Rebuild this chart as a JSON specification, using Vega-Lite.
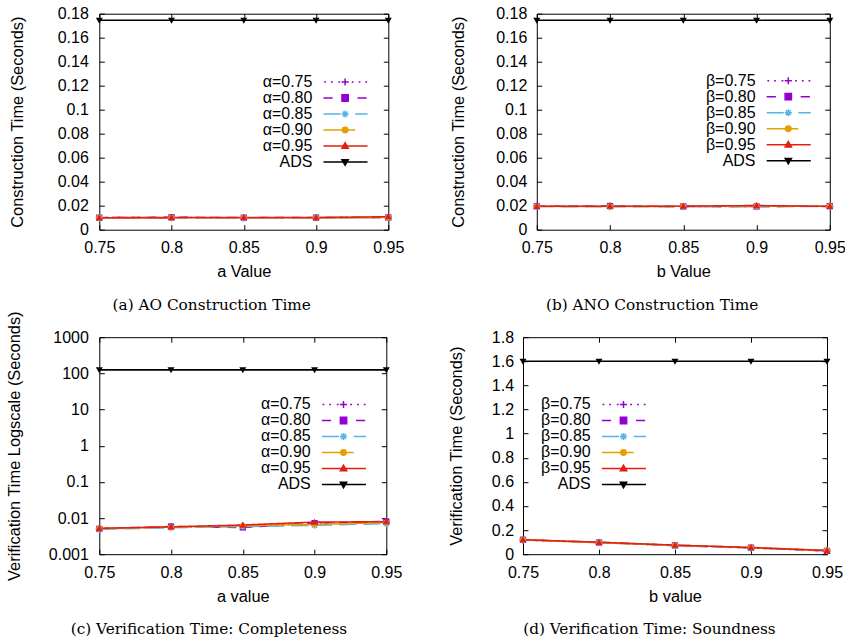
{
  "$schema": "https://vega.github.io/schema/vega-lite/v6.json",
  "background": "white",
  "padding": {"left": 5.3, "top": 4.7, "right": 0, "bottom": 0},
  "datasets": {
    "a": [
      {"x":0.75,"s":"α=0.75","t":0.0101},{"x":0.8,"s":"α=0.75","t":0.0102},{"x":0.85,"s":"α=0.75","t":0.0099},{"x":0.9,"s":"α=0.75","t":0.0100},{"x":0.95,"s":"α=0.75","t":0.0103},
      {"x":0.75,"s":"α=0.80","t":0.0100},{"x":0.8,"s":"α=0.80","t":0.0103},{"x":0.85,"s":"α=0.80","t":0.0100},{"x":0.9,"s":"α=0.80","t":0.0101},{"x":0.95,"s":"α=0.80","t":0.0102},
      {"x":0.75,"s":"α=0.85","t":0.0099},{"x":0.8,"s":"α=0.85","t":0.0098},{"x":0.85,"s":"α=0.85","t":0.0098},{"x":0.9,"s":"α=0.85","t":0.0099},{"x":0.95,"s":"α=0.85","t":0.0101},
      {"x":0.75,"s":"α=0.90","t":0.0100},{"x":0.8,"s":"α=0.90","t":0.0100},{"x":0.85,"s":"α=0.90","t":0.0100},{"x":0.9,"s":"α=0.90","t":0.0100},{"x":0.95,"s":"α=0.90","t":0.0102},
      {"x":0.75,"s":"α=0.95","t":0.0100},{"x":0.8,"s":"α=0.95","t":0.0101},{"x":0.85,"s":"α=0.95","t":0.0102},{"x":0.9,"s":"α=0.95","t":0.0101},{"x":0.95,"s":"α=0.95","t":0.0108},
      {"x":0.75,"s":"ADS","t":0.1745},{"x":0.8,"s":"ADS","t":0.1745},{"x":0.85,"s":"ADS","t":0.1745},{"x":0.9,"s":"ADS","t":0.1745},{"x":0.95,"s":"ADS","t":0.1745}
    ],
    "b": [
      {"x":0.75,"s":"β=0.75","t":0.0196},{"x":0.8,"s":"β=0.75","t":0.0197},{"x":0.85,"s":"β=0.75","t":0.0193},{"x":0.9,"s":"β=0.75","t":0.0195},{"x":0.95,"s":"β=0.75","t":0.0195},
      {"x":0.75,"s":"β=0.80","t":0.0195},{"x":0.8,"s":"β=0.80","t":0.0197},{"x":0.85,"s":"β=0.80","t":0.0194},{"x":0.9,"s":"β=0.80","t":0.0194},{"x":0.95,"s":"β=0.80","t":0.0196},
      {"x":0.75,"s":"β=0.85","t":0.0193},{"x":0.8,"s":"β=0.85","t":0.0192},{"x":0.85,"s":"β=0.85","t":0.0192},{"x":0.9,"s":"β=0.85","t":0.0192},{"x":0.95,"s":"β=0.85","t":0.0194},
      {"x":0.75,"s":"β=0.90","t":0.0194},{"x":0.8,"s":"β=0.90","t":0.0193},{"x":0.85,"s":"β=0.90","t":0.0195},{"x":0.9,"s":"β=0.90","t":0.0197},{"x":0.95,"s":"β=0.90","t":0.0195},
      {"x":0.75,"s":"β=0.95","t":0.0195},{"x":0.8,"s":"β=0.95","t":0.0196},{"x":0.85,"s":"β=0.95","t":0.0196},{"x":0.9,"s":"β=0.95","t":0.0201},{"x":0.95,"s":"β=0.95","t":0.0194},
      {"x":0.75,"s":"ADS","t":0.1745},{"x":0.8,"s":"ADS","t":0.1745},{"x":0.85,"s":"ADS","t":0.1745},{"x":0.9,"s":"ADS","t":0.1745},{"x":0.95,"s":"ADS","t":0.1745}
    ],
    "c": [
      {"x":0.75,"s":"α=0.75","t":0.0051},{"x":0.8,"s":"α=0.75","t":0.0057},{"x":0.85,"s":"α=0.75","t":0.0060},{"x":0.9,"s":"α=0.75","t":0.0070},{"x":0.95,"s":"α=0.75","t":0.0078},
      {"x":0.75,"s":"α=0.80","t":0.0050},{"x":0.8,"s":"α=0.80","t":0.0058},{"x":0.85,"s":"α=0.80","t":0.0055},{"x":0.9,"s":"α=0.80","t":0.0072},{"x":0.95,"s":"α=0.80","t":0.0080},
      {"x":0.75,"s":"α=0.85","t":0.0049},{"x":0.8,"s":"α=0.85","t":0.0054},{"x":0.85,"s":"α=0.85","t":0.0058},{"x":0.9,"s":"α=0.85","t":0.0063},{"x":0.95,"s":"α=0.85","t":0.0070},
      {"x":0.75,"s":"α=0.90","t":0.0051},{"x":0.8,"s":"α=0.90","t":0.0056},{"x":0.85,"s":"α=0.90","t":0.0061},{"x":0.9,"s":"α=0.90","t":0.0066},{"x":0.95,"s":"α=0.90","t":0.0075},
      {"x":0.75,"s":"α=0.95","t":0.0052},{"x":0.8,"s":"α=0.95","t":0.0057},{"x":0.85,"s":"α=0.95","t":0.0064},{"x":0.9,"s":"α=0.95","t":0.0077},{"x":0.95,"s":"α=0.95","t":0.0079},
      {"x":0.75,"s":"ADS","t":125},{"x":0.8,"s":"ADS","t":125},{"x":0.85,"s":"ADS","t":125},{"x":0.9,"s":"ADS","t":125},{"x":0.95,"s":"ADS","t":125}
    ],
    "d": [
      {"x":0.75,"s":"β=0.75","t":0.118},{"x":0.8,"s":"β=0.75","t":0.098},{"x":0.85,"s":"β=0.75","t":0.072},{"x":0.9,"s":"β=0.75","t":0.052},{"x":0.95,"s":"β=0.75","t":0.028},
      {"x":0.75,"s":"β=0.80","t":0.120},{"x":0.8,"s":"β=0.80","t":0.097},{"x":0.85,"s":"β=0.80","t":0.073},{"x":0.9,"s":"β=0.80","t":0.054},{"x":0.95,"s":"β=0.80","t":0.027},
      {"x":0.75,"s":"β=0.85","t":0.117},{"x":0.8,"s":"β=0.85","t":0.100},{"x":0.85,"s":"β=0.85","t":0.070},{"x":0.9,"s":"β=0.85","t":0.050},{"x":0.95,"s":"β=0.85","t":0.030},
      {"x":0.75,"s":"β=0.90","t":0.119},{"x":0.8,"s":"β=0.90","t":0.095},{"x":0.85,"s":"β=0.90","t":0.074},{"x":0.9,"s":"β=0.90","t":0.056},{"x":0.95,"s":"β=0.90","t":0.031},
      {"x":0.75,"s":"β=0.95","t":0.120},{"x":0.8,"s":"β=0.95","t":0.099},{"x":0.85,"s":"β=0.95","t":0.075},{"x":0.9,"s":"β=0.95","t":0.055},{"x":0.95,"s":"β=0.95","t":0.030},
      {"x":0.75,"s":"ADS","t":1.6},{"x":0.8,"s":"ADS","t":1.6},{"x":0.85,"s":"ADS","t":1.6},{"x":0.9,"s":"ADS","t":1.6},{"x":0.95,"s":"ADS","t":1.6}
    ]
  },
  "resolve": {"scale": {"color": "independent", "strokeDash": "independent", "shape": "independent", "fill": "independent", "stroke": "independent"}, "legend": {"color": "independent", "shape": "independent", "stroke": "independent", "strokeDash": "independent"}},
  "spacing": -3.5,
  "vconcat": [
    {
      "spacing": 44.5,
      "resolve": {"scale": {"color": "independent", "strokeDash": "independent", "shape": "independent", "fill": "independent", "stroke": "independent"}, "legend": {"color": "independent", "shape": "independent", "stroke": "independent", "strokeDash": "independent"}},
      "hconcat": [
        {
          "width": 289, "height": 216,
          "title": {"text": "(a) AO Construction Time", "orient": "bottom", "frame": "bounds", "anchor": "middle", "offset": 17.5, "dx": 5},
          "data": {"name": "a"},
          "encoding": {
            "x": {"field": "x", "type": "quantitative", "scale": {"domain": [0.75, 0.95], "nice": false, "zero": false}, "axis": null},
            "y": {"field": "t", "type": "quantitative", "scale": {"domain": [0, 0.18], "nice": false}, "axis": null},
            "color": {"field": "s", "type": "nominal", "scale": {"domain": ["α=0.75","α=0.80","α=0.85","α=0.90","α=0.95","ADS"], "range": ["#9400d3","#9400d3","#56b4e9","#e69f00","#e51e10","#000000"]}}
          },
          "layer": [
            {"mark": {"type": "line", "strokeWidth": 1.6},
             "encoding": {
               "x": {"field": "x", "type": "quantitative", "scale": {"domain": [0.75, 0.95], "nice": false, "zero": false}, "axis": {"title": "a Value", "values": [0.75,0.8,0.85,0.9,0.95], "format": "~g", "labelPadding": 14.9, "titlePadding": 8, "minExtent": 26, "maxExtent": 26}},
               "y": {"field": "t", "type": "quantitative", "scale": {"domain": [0, 0.18], "nice": false}, "axis": {"title": "Construction Time (Seconds)", "values": [0,0.02,0.04,0.06,0.08,0.1,0.12,0.14,0.16,0.18], "format": "~g", "labelPadding": 16, "minExtent": 42, "maxExtent": 42, "titlePadding": 31.7}},
               "strokeDash": {"field": "s", "type": "nominal", "scale": {"domain": ["ADS","α=0.95","α=0.90","α=0.85","α=0.80","α=0.75"], "range": [[1,0],[1,0],[1,0],[17,7],[9,7],[1.5,5]]}, "legend": null}
             }},
            {"transform": [{"filter": "datum.s=='α=0.75'"}], "mark": {"type": "point", "shape": "M-1,0H1M0,-1V1", "filled": false, "size": 49, "opacity": 1, "strokeWidth": 1.3}},
            {"transform": [{"filter": "datum.s=='α=0.80'"}], "mark": {"type": "point", "shape": "M-0.9,-0.9H0.9V0.9H-0.9Z", "filled": true, "size": 49, "opacity": 1}},
            {"transform": [{"filter": "datum.s=='α=0.85'"}], "mark": {"type": "point", "shape": "M-1,0H1M0,-1V1M-0.7,-0.7L0.7,0.7M-0.7,0.7L0.7,-0.7", "filled": false, "size": 49, "opacity": 1, "strokeWidth": 1.3}},
            {"transform": [{"filter": "datum.s=='α=0.90'"}], "mark": {"type": "point", "shape": "M-0.85,0A0.85,0.85,0,1,0,0.85,0A0.85,0.85,0,1,0,-0.85,0Z", "filled": true, "size": 49, "opacity": 1}},
            {"transform": [{"filter": "datum.s=='α=0.95'"}], "mark": {"type": "point", "shape": "M-1,0.75L1,0.75L0,-1Z", "filled": true, "size": 49, "opacity": 1}},
            {"transform": [{"filter": "datum.s=='ADS'"}], "mark": {"type": "point", "shape": "M-1,-0.75L1,-0.75L0,1Z", "filled": true, "size": 49, "opacity": 1}},
            {"mark": {"type": "point", "filled": true, "opacity": 0},
             "encoding": {
               "x": {"field": "x", "type": "quantitative", "scale": {"domain": [0.75, 0.95], "nice": false, "zero": false}, "axis": {"orient": "top", "title": null, "labels": false, "values": [0.75,0.8,0.85,0.9,0.95], "minExtent": 0, "maxExtent": 0}},
               "y": {"field": "t", "type": "quantitative", "scale": {"domain": [0, 0.18], "nice": false}, "axis": {"orient": "right", "title": null, "labels": false, "values": [0,0.02,0.04,0.06,0.08,0.1,0.12,0.14,0.16,0.18], "minExtent": 0, "maxExtent": 0}},
               "color": {"field": "s", "type": "nominal", "scale": {"domain": ["α=0.75","α=0.80","α=0.85","α=0.90","α=0.95","ADS"], "range": ["#9400d3","#9400d3","#56b4e9","#e69f00","#e51e10","#000000"]},
                 "legend": {"orient": "none", "legendX": 207.8, "legendY": 60.3, "title": null, "labelAlign": "right", "labelOffset": -40.75, "symbolOffset": 30, "symbolSize": 196, "symbolStrokeWidth": 1.5, "symbolOpacity": 1, "rowPadding": 0, "padding": 0}},
               "stroke": {"field": "s", "type": "nominal", "scale": {"domain": ["α=0.75","α=0.80","α=0.85","α=0.90","α=0.95","ADS"], "range": ["#9400d3","#9400d3","#56b4e9","#e69f00","#e51e10","#000000"]}},
               "shape": {"field": "s", "type": "nominal", "scale": {"domain": ["α=0.75","α=0.80","α=0.85","α=0.90","α=0.95","ADS"], "range": ["M-2.99,0h0.26M-2.03,0h0.26M-0.96,0h0.26M0.96,0h0.26M1.93,0h0.26M2.89,0h0.26M-0.51,0H0.51M0,-0.51V0.51","M-3.09,0H-1.77M1.77,0H3.09M-0.45,-0.45H0.45V0.45H-0.45Z","M-3.09,0H-0.64M1.45,0H3.21M-0.51,0H0.51M0,-0.51V0.51M-0.35,-0.35L0.35,0.35M-0.35,0.35L0.35,-0.35","M-3.09,0H1.45M-0.39,0A0.39,0.39,0,1,0,0.39,0A0.39,0.39,0,1,0,-0.39,0Z","M-3.09,0H3.21M-0.45,0.32L0.45,0.32L0,-0.45Z","M-3.09,0H3.21M-0.45,-0.32L0.45,-0.32L0,0.45Z"]}}
             }}
          ],
          "resolve": {"axis": {"x": "independent", "y": "independent"}}
        },
        {
          "width": 293, "height": 216,
          "title": {"text": "(b) ANO Construction Time", "orient": "bottom", "frame": "bounds", "anchor": "middle", "offset": 17.5, "dx": 4},
          "data": {"name": "b"},
          "encoding": {
            "x": {"field": "x", "type": "quantitative", "scale": {"domain": [0.75, 0.95], "nice": false, "zero": false}, "axis": null},
            "y": {"field": "t", "type": "quantitative", "scale": {"domain": [0, 0.18], "nice": false}, "axis": null},
            "color": {"field": "s", "type": "nominal", "scale": {"domain": ["β=0.75","β=0.80","β=0.85","β=0.90","β=0.95","ADS"], "range": ["#9400d3","#9400d3","#56b4e9","#e69f00","#e51e10","#000000"]}}
          },
          "layer": [
            {"mark": {"type": "line", "strokeWidth": 1.6},
             "encoding": {
               "x": {"field": "x", "type": "quantitative", "scale": {"domain": [0.75, 0.95], "nice": false, "zero": false}, "axis": {"title": "b Value", "values": [0.75,0.8,0.85,0.9,0.95], "format": "~g", "labelPadding": 14.9, "titlePadding": 8, "minExtent": 26, "maxExtent": 26}},
               "y": {"field": "t", "type": "quantitative", "scale": {"domain": [0, 0.18], "nice": false}, "axis": {"title": "Construction Time (Seconds)", "values": [0,0.02,0.04,0.06,0.08,0.1,0.12,0.14,0.16,0.18], "format": "~g", "labelPadding": 15, "minExtent": 42, "maxExtent": 42, "titlePadding": 28}},
               "strokeDash": {"field": "s", "type": "nominal", "scale": {"domain": ["ADS","β=0.95","β=0.90","β=0.85","β=0.80","β=0.75"], "range": [[1,0],[1,0],[1,0],[17,7],[9,7],[1.5,5]]}, "legend": null}
             }},
            {"transform": [{"filter": "datum.s=='β=0.75'"}], "mark": {"type": "point", "shape": "M-1,0H1M0,-1V1", "filled": false, "size": 49, "opacity": 1, "strokeWidth": 1.3}},
            {"transform": [{"filter": "datum.s=='β=0.80'"}], "mark": {"type": "point", "shape": "M-0.9,-0.9H0.9V0.9H-0.9Z", "filled": true, "size": 49, "opacity": 1}},
            {"transform": [{"filter": "datum.s=='β=0.85'"}], "mark": {"type": "point", "shape": "M-1,0H1M0,-1V1M-0.7,-0.7L0.7,0.7M-0.7,0.7L0.7,-0.7", "filled": false, "size": 49, "opacity": 1, "strokeWidth": 1.3}},
            {"transform": [{"filter": "datum.s=='β=0.90'"}], "mark": {"type": "point", "shape": "M-0.85,0A0.85,0.85,0,1,0,0.85,0A0.85,0.85,0,1,0,-0.85,0Z", "filled": true, "size": 49, "opacity": 1}},
            {"transform": [{"filter": "datum.s=='β=0.95'"}], "mark": {"type": "point", "shape": "M-1,0.75L1,0.75L0,-1Z", "filled": true, "size": 49, "opacity": 1}},
            {"transform": [{"filter": "datum.s=='ADS'"}], "mark": {"type": "point", "shape": "M-1,-0.75L1,-0.75L0,1Z", "filled": true, "size": 49, "opacity": 1}},
            {"mark": {"type": "point", "filled": true, "opacity": 0},
             "encoding": {
               "x": {"field": "x", "type": "quantitative", "scale": {"domain": [0.75, 0.95], "nice": false, "zero": false}, "axis": {"orient": "top", "title": null, "labels": false, "values": [0.75,0.8,0.85,0.9,0.95], "minExtent": 0, "maxExtent": 0}},
               "y": {"field": "t", "type": "quantitative", "scale": {"domain": [0, 0.18], "nice": false}, "axis": {"orient": "right", "title": null, "labels": false, "values": [0,0.02,0.04,0.06,0.08,0.1,0.12,0.14,0.16,0.18], "minExtent": 0, "maxExtent": 0}},
               "color": {"field": "s", "type": "nominal", "scale": {"domain": ["β=0.75","β=0.80","β=0.85","β=0.90","β=0.95","ADS"], "range": ["#9400d3","#9400d3","#56b4e9","#e69f00","#e51e10","#000000"]},
                 "legend": {"orient": "none", "legendX": 213.5, "legendY": 59, "title": null, "labelAlign": "right", "labelOffset": -40.75, "symbolOffset": 30, "symbolSize": 196, "symbolStrokeWidth": 1.5, "symbolOpacity": 1, "rowPadding": 0, "padding": 0}},
               "stroke": {"field": "s", "type": "nominal", "scale": {"domain": ["β=0.75","β=0.80","β=0.85","β=0.90","β=0.95","ADS"], "range": ["#9400d3","#9400d3","#56b4e9","#e69f00","#e51e10","#000000"]}},
               "shape": {"field": "s", "type": "nominal", "scale": {"domain": ["β=0.75","β=0.80","β=0.85","β=0.90","β=0.95","ADS"], "range": ["M-2.99,0h0.26M-2.03,0h0.26M-0.96,0h0.26M0.96,0h0.26M1.93,0h0.26M2.89,0h0.26M-0.51,0H0.51M0,-0.51V0.51","M-3.09,0H-1.77M1.77,0H3.09M-0.45,-0.45H0.45V0.45H-0.45Z","M-3.09,0H-0.64M1.45,0H3.21M-0.51,0H0.51M0,-0.51V0.51M-0.35,-0.35L0.35,0.35M-0.35,0.35L0.35,-0.35","M-3.09,0H1.45M-0.39,0A0.39,0.39,0,1,0,0.39,0A0.39,0.39,0,1,0,-0.39,0Z","M-3.09,0H3.21M-0.45,0.32L0.45,0.32L0,-0.45Z","M-3.09,0H3.21M-0.45,-0.32L0.45,-0.32L0,0.45Z"]}}
             }}
          ],
          "resolve": {"axis": {"x": "independent", "y": "independent"}}
        }
      ]
    },
    {
      "spacing": 43.7,
      "resolve": {"scale": {"color": "independent", "strokeDash": "independent", "shape": "independent", "fill": "independent", "stroke": "independent"}, "legend": {"color": "independent", "shape": "independent", "stroke": "independent", "strokeDash": "independent"}},
      "hconcat": [
        {
          "width": 287, "height": 217,
          "title": {"text": "(c) Verification Time: Completeness", "orient": "bottom", "frame": "bounds", "anchor": "middle", "offset": 17.5, "dx": 5},
          "data": {"name": "c"},
          "encoding": {
            "x": {"field": "x", "type": "quantitative", "scale": {"domain": [0.75, 0.95], "nice": false, "zero": false}, "axis": null},
            "y": {"field": "t", "type": "quantitative", "scale": {"type": "log", "domain": [0.001, 1000], "nice": false}, "axis": null},
            "color": {"field": "s", "type": "nominal", "scale": {"domain": ["α=0.75","α=0.80","α=0.85","α=0.90","α=0.95","ADS"], "range": ["#9400d3","#9400d3","#56b4e9","#e69f00","#e51e10","#000000"]}}
          },
          "layer": [
            {"mark": {"type": "line", "strokeWidth": 1.6},
             "encoding": {
               "x": {"field": "x", "type": "quantitative", "scale": {"domain": [0.75, 0.95], "nice": false, "zero": false}, "axis": {"title": "a value", "values": [0.75,0.8,0.85,0.9,0.95], "format": "~g", "labelPadding": 14.9, "titlePadding": 8, "minExtent": 26, "maxExtent": 26}},
               "y": {"field": "t", "type": "quantitative", "scale": {"type": "log", "domain": [0.001, 1000], "nice": false}, "axis": {"title": "Verification Time Logscale (Seconds)", "values": [0.001,0.01,0.1,1,10,100,1000], "format": "~g", "labelPadding": 16, "minExtent": 50, "maxExtent": 50, "titlePadding": 27.3}},
               "strokeDash": {"field": "s", "type": "nominal", "scale": {"domain": ["ADS","α=0.95","α=0.90","α=0.85","α=0.80","α=0.75"], "range": [[1,0],[1,0],[1,0],[17,7],[9,7],[1.5,5]]}, "legend": null}
             }},
            {"transform": [{"filter": "datum.s=='α=0.75'"}], "mark": {"type": "point", "shape": "M-1,0H1M0,-1V1", "filled": false, "size": 49, "opacity": 1, "strokeWidth": 1.3}},
            {"transform": [{"filter": "datum.s=='α=0.80'"}], "mark": {"type": "point", "shape": "M-0.9,-0.9H0.9V0.9H-0.9Z", "filled": true, "size": 49, "opacity": 1}},
            {"transform": [{"filter": "datum.s=='α=0.85'"}], "mark": {"type": "point", "shape": "M-1,0H1M0,-1V1M-0.7,-0.7L0.7,0.7M-0.7,0.7L0.7,-0.7", "filled": false, "size": 49, "opacity": 1, "strokeWidth": 1.3}},
            {"transform": [{"filter": "datum.s=='α=0.90'"}], "mark": {"type": "point", "shape": "M-0.85,0A0.85,0.85,0,1,0,0.85,0A0.85,0.85,0,1,0,-0.85,0Z", "filled": true, "size": 49, "opacity": 1}},
            {"transform": [{"filter": "datum.s=='α=0.95'"}], "mark": {"type": "point", "shape": "M-1,0.75L1,0.75L0,-1Z", "filled": true, "size": 49, "opacity": 1}},
            {"transform": [{"filter": "datum.s=='ADS'"}], "mark": {"type": "point", "shape": "M-1,-0.75L1,-0.75L0,1Z", "filled": true, "size": 49, "opacity": 1}},
            {"mark": {"type": "point", "filled": true, "opacity": 0},
             "encoding": {
               "x": {"field": "x", "type": "quantitative", "scale": {"domain": [0.75, 0.95], "nice": false, "zero": false}, "axis": {"orient": "top", "title": null, "labels": false, "values": [0.75,0.8,0.85,0.9,0.95], "minExtent": 0, "maxExtent": 0}},
               "y": {"field": "t", "type": "quantitative", "scale": {"type": "log", "domain": [0.001, 1000], "nice": false}, "axis": {"orient": "right", "title": null, "labels": false, "values": [0.001,0.01,0.1,1,10,100,1000], "minExtent": 0, "maxExtent": 0}},
               "color": {"field": "s", "type": "nominal", "scale": {"domain": ["α=0.75","α=0.80","α=0.85","α=0.90","α=0.95","ADS"], "range": ["#9400d3","#9400d3","#56b4e9","#e69f00","#e51e10","#000000"]},
                 "legend": {"orient": "none", "legendX": 206.2, "legendY": 59.3, "title": null, "labelAlign": "right", "labelOffset": -40.75, "symbolOffset": 30, "symbolSize": 196, "symbolStrokeWidth": 1.5, "symbolOpacity": 1, "rowPadding": 0, "padding": 0}},
               "stroke": {"field": "s", "type": "nominal", "scale": {"domain": ["α=0.75","α=0.80","α=0.85","α=0.90","α=0.95","ADS"], "range": ["#9400d3","#9400d3","#56b4e9","#e69f00","#e51e10","#000000"]}},
               "shape": {"field": "s", "type": "nominal", "scale": {"domain": ["α=0.75","α=0.80","α=0.85","α=0.90","α=0.95","ADS"], "range": ["M-2.99,0h0.26M-2.03,0h0.26M-0.96,0h0.26M0.96,0h0.26M1.93,0h0.26M2.89,0h0.26M-0.51,0H0.51M0,-0.51V0.51","M-3.09,0H-1.77M1.77,0H3.09M-0.45,-0.45H0.45V0.45H-0.45Z","M-3.09,0H-0.64M1.45,0H3.21M-0.51,0H0.51M0,-0.51V0.51M-0.35,-0.35L0.35,0.35M-0.35,0.35L0.35,-0.35","M-3.09,0H1.45M-0.39,0A0.39,0.39,0,1,0,0.39,0A0.39,0.39,0,1,0,-0.39,0Z","M-3.09,0H3.21M-0.45,0.32L0.45,0.32L0,-0.45Z","M-3.09,0H3.21M-0.45,-0.32L0.45,-0.32L0,0.45Z"]}}
             }}
          ],
          "resolve": {"axis": {"x": "independent", "y": "independent"}}
        },
        {
          "width": 304, "height": 217,
          "title": {"text": "(d) Verification Time: Soundness", "orient": "bottom", "frame": "bounds", "anchor": "middle", "offset": 17.5, "dx": 4},
          "data": {"name": "d"},
          "encoding": {
            "x": {"field": "x", "type": "quantitative", "scale": {"domain": [0.75, 0.95], "nice": false, "zero": false}, "axis": null},
            "y": {"field": "t", "type": "quantitative", "scale": {"domain": [0, 1.8], "nice": false}, "axis": null},
            "color": {"field": "s", "type": "nominal", "scale": {"domain": ["β=0.75","β=0.80","β=0.85","β=0.90","β=0.95","ADS"], "range": ["#9400d3","#9400d3","#56b4e9","#e69f00","#e51e10","#000000"]}}
          },
          "layer": [
            {"mark": {"type": "line", "strokeWidth": 1.6},
             "encoding": {
               "x": {"field": "x", "type": "quantitative", "scale": {"domain": [0.75, 0.95], "nice": false, "zero": false}, "axis": {"title": "b value", "values": [0.75,0.8,0.85,0.9,0.95], "format": "~g", "labelPadding": 14.9, "titlePadding": 8, "minExtent": 26, "maxExtent": 26}},
               "y": {"field": "t", "type": "quantitative", "scale": {"domain": [0, 1.8], "nice": false}, "axis": {"title": "Verification Time (Seconds)", "values": [0,0.2,0.4,0.6,0.8,1,1.2,1.4,1.6,1.8], "format": "~g", "labelPadding": 14.4, "minExtent": 32, "maxExtent": 32, "titlePadding": 26.7}},
               "strokeDash": {"field": "s", "type": "nominal", "scale": {"domain": ["ADS","β=0.95","β=0.90","β=0.85","β=0.80","β=0.75"], "range": [[1,0],[1,0],[1,0],[17,7],[9,7],[1.5,5]]}, "legend": null}
             }},
            {"transform": [{"filter": "datum.s=='β=0.75'"}], "mark": {"type": "point", "shape": "M-1,0H1M0,-1V1", "filled": false, "size": 49, "opacity": 1, "strokeWidth": 1.3}},
            {"transform": [{"filter": "datum.s=='β=0.80'"}], "mark": {"type": "point", "shape": "M-0.9,-0.9H0.9V0.9H-0.9Z", "filled": true, "size": 49, "opacity": 1}},
            {"transform": [{"filter": "datum.s=='β=0.85'"}], "mark": {"type": "point", "shape": "M-1,0H1M0,-1V1M-0.7,-0.7L0.7,0.7M-0.7,0.7L0.7,-0.7", "filled": false, "size": 49, "opacity": 1, "strokeWidth": 1.3}},
            {"transform": [{"filter": "datum.s=='β=0.90'"}], "mark": {"type": "point", "shape": "M-0.85,0A0.85,0.85,0,1,0,0.85,0A0.85,0.85,0,1,0,-0.85,0Z", "filled": true, "size": 49, "opacity": 1}},
            {"transform": [{"filter": "datum.s=='β=0.95'"}], "mark": {"type": "point", "shape": "M-1,0.75L1,0.75L0,-1Z", "filled": true, "size": 49, "opacity": 1}},
            {"transform": [{"filter": "datum.s=='ADS'"}], "mark": {"type": "point", "shape": "M-1,-0.75L1,-0.75L0,1Z", "filled": true, "size": 49, "opacity": 1}},
            {"mark": {"type": "point", "filled": true, "opacity": 0},
             "encoding": {
               "x": {"field": "x", "type": "quantitative", "scale": {"domain": [0.75, 0.95], "nice": false, "zero": false}, "axis": {"orient": "top", "title": null, "labels": false, "values": [0.75,0.8,0.85,0.9,0.95], "minExtent": 0, "maxExtent": 0}},
               "y": {"field": "t", "type": "quantitative", "scale": {"domain": [0, 1.8], "nice": false}, "axis": {"orient": "right", "title": null, "labels": false, "values": [0,0.2,0.4,0.6,0.8,1,1.2,1.4,1.6,1.8], "minExtent": 0, "maxExtent": 0}},
               "color": {"field": "s", "type": "nominal", "scale": {"domain": ["β=0.75","β=0.80","β=0.85","β=0.90","β=0.95","ADS"], "range": ["#9400d3","#9400d3","#56b4e9","#e69f00","#e51e10","#000000"]},
                 "legend": {"orient": "none", "legendX": 62.5, "legendY": 59.3, "title": null, "labelAlign": "right", "labelOffset": -40.75, "symbolOffset": 30, "symbolSize": 196, "symbolStrokeWidth": 1.5, "symbolOpacity": 1, "rowPadding": 0, "padding": 0}},
               "stroke": {"field": "s", "type": "nominal", "scale": {"domain": ["β=0.75","β=0.80","β=0.85","β=0.90","β=0.95","ADS"], "range": ["#9400d3","#9400d3","#56b4e9","#e69f00","#e51e10","#000000"]}},
               "shape": {"field": "s", "type": "nominal", "scale": {"domain": ["β=0.75","β=0.80","β=0.85","β=0.90","β=0.95","ADS"], "range": ["M-2.99,0h0.26M-2.03,0h0.26M-0.96,0h0.26M0.96,0h0.26M1.93,0h0.26M2.89,0h0.26M-0.51,0H0.51M0,-0.51V0.51","M-3.09,0H-1.77M1.77,0H3.09M-0.45,-0.45H0.45V0.45H-0.45Z","M-3.09,0H-0.64M1.45,0H3.21M-0.51,0H0.51M0,-0.51V0.51M-0.35,-0.35L0.35,0.35M-0.35,0.35L0.35,-0.35","M-3.09,0H1.45M-0.39,0A0.39,0.39,0,1,0,0.39,0A0.39,0.39,0,1,0,-0.39,0Z","M-3.09,0H3.21M-0.45,0.32L0.45,0.32L0,-0.45Z","M-3.09,0H3.21M-0.45,-0.32L0.45,-0.32L0,0.45Z"]}}
             }}
          ],
          "resolve": {"axis": {"x": "independent", "y": "independent"}}
        }
      ]
    }
  ],
  "config": {
    "view": {"stroke": "black", "strokeWidth": 1},
    "font": "Liberation Sans",
    "axis": {"labelFont": "Liberation Sans", "labelFontSize": 16, "labelColor": "black", "titleFont": "Liberation Sans", "titleFontSize": 16.4, "titleFontWeight": "normal", "titleColor": "black", "grid": false, "domain": false, "tickColor": "black", "tickSize": -5, "tickWidth": 1, "labelFlush": false, "labelOverlap": false},
    "legend": {"labelFont": "Liberation Sans", "labelFontSize": 16, "labelColor": "black"},
    "title": {"font": "DejaVu Serif", "fontSize": 15.3, "fontWeight": "normal", "color": "black"}
  }
}
